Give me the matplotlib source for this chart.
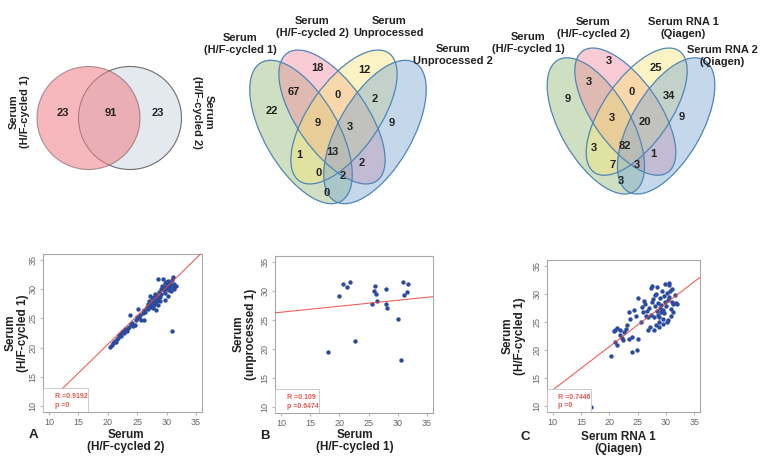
import numpy as np
import matplotlib

matplotlib.use("Agg")
import matplotlib.pyplot as plt
from matplotlib.patches import Circle, Ellipse, Rectangle

plt.rcParams["font.family"] = ["Liberation Sans", "DejaVu Sans"]

W, H = 764, 461

# ---- Venn data ----
venn2_counts = [23, 91, 23]
venn2_sets = ["Serum\n(H/F-cycled 1)", "Serum\n(H/F-cycled 2)"]

# region order: g, p, gp, y, py, yb, gpy, pyb, b, gy, gpyb, pb, gyb, gpb, gb
venn_b_counts = [22, 18, 67, 12, 0, 2, 9, 3, 9, 1, 13, 2, 0, 2, 0]
venn_b_sets = ["Serum\n(H/F-cycled 1)", "Serum\n(H/F-cycled 2)",
               "Serum\nUnprocessed", "Serum\nUnprocessed 2"]
venn_c_counts = [9, 3, 3, 25, 0, 34, 3, 20, 9, 3, 82, 1, 7, 3, 3]
venn_c_sets = ["Serum\n(H/F-cycled 1)", "Serum\n(H/F-cycled 2)",
               "Serum RNA 1\n(Qiagen)", "Serum RNA 2\n(Qiagen)"]

# ---- scatter data (Ct values) ----
a_x = [20.4, 20.7, 20.9, 21.1, 21.3, 21.4, 21.6, 21.8, 21.9, 22.1, 22.3, 22.4, 22.6, 22.8,
       23.0, 23.2, 23.4, 23.6, 23.7, 23.9, 24.1, 24.3, 24.6, 24.8, 25.0, 25.1, 25.3, 25.5,
       25.7, 25.9, 26.1, 26.2, 26.4, 26.6, 26.8, 26.9, 27.0, 27.1, 27.2, 27.3, 27.4, 27.5,
       27.6, 27.7, 27.8, 27.9, 28.0, 28.0, 28.1, 28.2, 28.3, 28.4, 28.5, 28.6, 28.6, 28.7,
       28.8, 28.9, 29.0, 29.1, 29.2, 29.4, 29.5, 29.6, 29.7, 29.8, 29.9, 30.0, 30.1, 30.2,
       30.3, 30.4, 30.5, 30.6, 30.7, 30.8, 30.9, 31.0, 31.1, 31.2, 31.3, 31.5, 30.9, 29.8, 30.2]
a_y = [20.1, 20.5, 20.8, 21.0, 21.2, 20.9, 21.5, 21.7, 22.1, 22.3, 22.0, 22.6, 22.8, 22.5,
       23.1, 22.8, 23.4, 23.5, 25.6, 24.0, 24.2, 23.7, 23.8, 24.8, 25.3, 26.6, 25.0, 25.6,
       24.8, 26.0, 24.8, 26.4, 26.1, 26.9, 27.5, 26.6, 28.0, 27.2, 28.8, 27.7, 26.9, 28.4,
       27.9, 26.8, 28.6, 27.3, 29.1, 27.7, 28.2, 26.5, 27.9, 28.8, 27.2, 31.7, 28.3, 29.5,
       27.9, 28.7, 30.1, 29.2, 30.6, 31.8, 29.8, 30.4, 31.0, 29.4, 31.3, 30.5, 30.0, 31.4,
       30.8, 29.9, 30.3, 31.1, 30.6, 29.6, 31.5, 32.0, 30.3, 30.9, 30.1, 30.5, 22.8, 28.2, 28.9]

b_x = [20.0, 20.7, 21.3, 21.9, 22.7, 25.5, 25.9, 26.1, 26.3, 26.5, 28.0, 28.0, 28.1,
       30.1, 30.8, 31.8, 31.0, 31.6, 18.1, 30.6]
b_y = [29.1, 31.1, 30.6, 31.6, 21.3, 27.8, 30.0, 30.9, 29.4, 28.3, 30.3, 27.7, 27.0,
       25.2, 31.5, 31.1, 29.3, 29.8, 19.5, 18.2]

c_x = [20.3, 21.0, 20.8, 21.4, 21.9, 21.4, 22.2, 21.9, 21.0, 22.6, 23.2, 23.5, 23.7, 23.4,
       24.0, 24.0, 24.9, 25.1, 24.7, 24.3, 25.1, 25.6, 26.1, 26.0, 26.3, 26.6, 26.9, 27.2,
       26.8, 27.0, 27.3, 27.5, 27.4, 27.6, 27.8, 27.9, 28.0, 28.1, 28.2, 28.3, 28.4, 28.5,
       28.6, 28.7, 28.8, 28.8, 28.9, 29.0, 29.1, 29.2, 29.3, 29.4, 29.5, 29.6, 29.7, 29.8,
       29.9, 30.0, 30.1, 30.2, 30.3, 30.4, 30.5, 30.6, 30.7, 30.8, 30.9, 31.0, 31.1, 31.3,
       31.3, 31.5, 31.7, 31.9, 30.6, 29.5, 28.4, 27.7, 26.5, 25.8, 23.0, 22.4, 16.8]
c_y = [18.9, 21.4, 23.3, 24.0, 23.5, 20.9, 22.2, 22.6, 23.5, 23.2, 24.4, 22.0, 25.6, 26.7,
       22.4, 19.7, 20.1, 22.0, 26.1, 27.2, 29.3, 25.0, 28.8, 26.7, 28.2, 27.0, 23.5, 24.1,
       25.8, 27.5, 26.2, 31.4, 31.0, 28.5, 23.5, 25.8, 29.8, 27.9, 24.4, 30.0, 27.0, 26.3,
       28.4, 25.8, 25.0, 24.1, 27.5, 29.2, 26.8, 28.0, 30.5, 27.2, 25.5, 29.6, 26.5, 28.6,
       31.7, 27.8, 30.2, 25.0, 28.9, 25.3, 31.5, 29.4, 30.5, 27.3, 26.0, 30.9, 28.5, 28.2,
       26.7, 29.8, 28.3, 28.2, 31.9, 24.6, 31.2, 29.0, 26.0, 27.6, 23.8, 21.8, 9.8]

# fitted lines (slope, intercept) and stats as printed on the chart
fit_a = (0.98, 0.95)
fit_b = (0.103, 25.3)
fit_c = (0.77, 5.2)
stats = [("R =0.9192", "p =0"), ("R =0.109", "p =0.6474"), ("R =0.7446", "p =0")]

fig = plt.figure(figsize=(W / 100, H / 100), dpi=100)
bg = fig.add_axes([0, 0, 1, 1])
bg.set_xlim(0, W)
bg.set_ylim(H, 0)
bg.axis("off")

bold = dict(fontweight="bold", fontsize=8, color="#222222", ha="center", va="center",
            linespacing=1.15)

# ---- two-set Venn ----
bg.add_patch(Circle((130, 118), 51.5, fc="#e4e9f0", ec="#6d6d6d", lw=0.8))
bg.add_patch(Circle((88.5, 118), 51.5, fc="#ef7f86", alpha=0.55, ec="#6d4d4d", lw=0.8))
for (x, y), n in zip([(63, 113), (111, 113), (158, 113)], venn2_counts):
    bg.text(x, y, str(n), **bold)
bg.text(19, 112, venn2_sets[0], rotation=90, **bold)
bg.text(203, 112, venn2_sets[1], rotation=270, **bold)

# ---- four-set Venns ----
ell_specs = [  # dx, dy, a, b, angle, colour
    (-37, 2, 80, 37, 60, "#94bb76"),
    (-6, -13, 78, 35, 55, "#f28ca0"),
    (6, -13, 78, 35, -55, "#f7e67a"),
    (37, 2, 80, 37, -60, "#7ea8d3"),
]


def venn4(cx, cy, s, counts, positions, sets, set_pos):
    for dx, dy, a, b, ang, col in ell_specs:
        bg.add_patch(Ellipse((cx + s * dx, cy + s * dy), 2 * a * s, 2 * b * s, angle=ang,
                             fc=col, alpha=0.45, ec="none"))
    for dx, dy, a, b, ang, col in ell_specs:
        bg.add_patch(Ellipse((cx + s * dx, cy + s * dy), 2 * a * s, 2 * b * s, angle=ang,
                             fc="none", ec="#4f86b6", lw=0.9))
    for (x, y), n in zip(positions, counts):
        bg.text(x, y, str(n), **bold)
    for (x, y), name in zip(set_pos, sets):
        bg.text(x, y, name, **bold)


venn4(338, 130, 1.0, venn_b_counts,
      [(272, 111), (317, 68), (294, 92), (364, 70), (338, 95), (375, 99), (318, 123),
       (350, 127), (392, 123), (299, 155), (332, 152), (362, 163), (319, 173), (343, 176),
       (327, 193)],
      venn_b_sets, [(240, 44), (312, 27), (389, 27), (453, 55)])
venn4(631, 124, 0.95, venn_c_counts,
      [(568, 99), (609, 61), (589, 82), (656, 68), (632, 92), (669, 96), (612, 118),
       (645, 122), (682, 117), (594, 148), (625, 146), (653, 154), (613, 165), (637, 165),
       (621, 181)],
      venn_c_sets, [(528, 43), (593, 28), (683, 28), (722, 56)])


# ---- scatter panels ----
def panel(px, x, y, fit, st, box_w):
    x0, y0, x1, y1 = px
    ax = fig.add_axes([x0 / W, 1 - y1 / H, (x1 - x0) / W, (y1 - y0) / H])
    ax.scatter(x, y, s=10, color="#2b4c9e", lw=0, zorder=3)
    xs = np.array([9, 36])
    ax.plot(xs, fit[0] * xs + fit[1], color="#e8473c", lw=0.8, alpha=0.85, zorder=4)
    ax.set_xlim(9, 36)
    ax.set_ylim(9, 36)
    ticks = [10, 15, 20, 25, 30, 35]
    ax.set_xticks(ticks)
    ax.set_yticks(ticks)
    ax.tick_params(labelsize=6.5, labelcolor="#666666", color="#bbbbbb", length=2, pad=2)
    ax.tick_params(axis="y", labelrotation=90)
    for t in ax.get_yticklabels():
        t.set_va("center")
    for sp in ax.spines.values():
        sp.set_color("#a8a8a8")
        sp.set_linewidth(0.8)
    ax.add_patch(Rectangle((0, 0), box_w, 0.152, transform=ax.transAxes, fc="white",
                           ec="#c4c4c4", lw=0.6, zorder=5))
    ax.text(0.075, 0.097, st[0], transform=ax.transAxes, color="#e25a50", fontsize=5,
            fontweight="bold", va="center", zorder=6)
    ax.text(0.075, 0.04, st[1], transform=ax.transAxes, color="#e25a50", fontsize=5,
            fontweight="bold", va="center", zorder=6)
    return ax


panel((43, 254, 202, 412), a_x, a_y, fit_a, stats[0], 0.283)
panel((275, 256, 433, 413), b_x, b_y, fit_b, stats[1], 0.278)
panel((547, 260, 700, 412), c_x, c_y, fit_c, stats[2], 0.288)

axlab = dict(fontweight="bold", fontsize=8.5, color="#222222", ha="center", va="center",
             linespacing=1.1)
bg.text(17, 333, "Serum\n(H/F-cycled 1)", rotation=90, **axlab)
bg.text(245, 334, "Serum\n(unprocessed 1)", rotation=90, **axlab)
bg.text(514, 336, "Serum\n(H/F-cycled 1)", rotation=90, **axlab)
bg.text(126, 441, "Serum\n(H/F-cycled 2)", **axlab)
bg.text(355, 441, "Serum\n(H/F-cycled 1)", **axlab)
bg.text(618, 443, "Serum RNA 1\n(Qiagen)", **axlab)
for lab, (x, y) in zip("ABC", [(33, 435), (265, 436), (525, 437)]):
    bg.text(x, y, lab, fontweight="bold", fontsize=9.5, color="#222222", ha="center",
            va="center")

fig.savefig("out.png", dpi=100)
